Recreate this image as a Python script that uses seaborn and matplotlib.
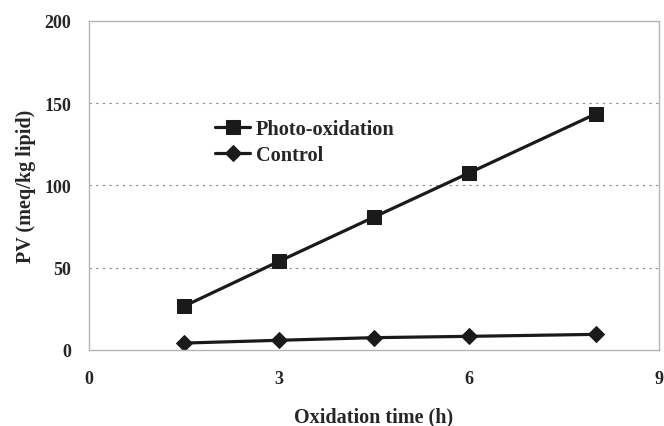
import matplotlib
matplotlib.use("Agg")
import matplotlib.pyplot as plt
import seaborn as sns
import pandas as pd

time_h = [1.5, 3, 4.5, 6, 8]
photo_pv = [26.6, 53.9, 80.8, 107.6, 143.5]
control_pv = [4.2, 5.9, 7.5, 8.3, 9.5]
series_names = ["Photo-oxidation", "Control"]
x_ticks = [0, 3, 6, 9]
y_ticks = [0, 50, 100, 150, 200]

df = pd.DataFrame({
    "time": time_h * 2,
    "pv": photo_pv + control_pv,
    "series": [series_names[0]] * len(time_h) + [series_names[1]] * len(time_h),
})

sns.set_style("white")
plt.rcParams['font.family'] = ['Liberation Serif', 'DejaVu Serif']
plt.rcParams['font.weight'] = 'bold'

fig = plt.figure(figsize=(6.64, 4.27), dpi=100)
ax = fig.add_axes([0.134, 0.178, 0.8585, 0.7705])

sns.lineplot(data=df, x="time", y="pv", hue="series", style="series",
             markers={"Photo-oxidation": "s", "Control": "D"},
             dashes=False, palette={"Photo-oxidation": "#1a1a1a", "Control": "#1a1a1a"},
             linewidth=2.3, markersize=10, markeredgecolor="#1a1a1a", ax=ax)

for line in ax.lines:
    if line.get_marker() == "D":
        line.set_markersize(8.3)

ax.set_xlim(0, 9)
ax.set_ylim(0, 200)
ax.set_xticks(x_ticks)
ax.set_yticks(y_ticks)
for y in y_ticks[1:-1]:
    ax.axhline(y, color="#888888", linewidth=0.8, linestyle=(0, (2, 4)), zorder=0)

for s in ax.spines.values():
    s.set_color("#b5b5b5")
    s.set_linewidth(1.0)

ax.tick_params(axis="x", direction="in", length=4, color="#b5b5b5", pad=14.5, labelsize=13)
ax.tick_params(axis="y", direction="in", length=4, color="#b5b5b5", pad=13, labelsize=13)
for lab in ax.get_xticklabels() + ax.get_yticklabels():
    lab.set_fontweight("bold")

ax.set_xlabel("Oxidation time (h)", fontsize=14.5, fontweight="bold", labelpad=14)
ax.set_ylabel("PV (meq/kg lipid)", fontsize=14.5, fontweight="bold", labelpad=6)

leg = ax.legend(loc="upper left", bbox_to_anchor=(0.221, 0.703), frameon=False,
                fontsize=14.6, handlelength=1.75, handletextpad=0.25, labelspacing=0.3,
                borderpad=0, borderaxespad=0, title=None)
for t in leg.get_texts():
    t.set_fontweight("bold")

fig.savefig("out.png", dpi=100)
